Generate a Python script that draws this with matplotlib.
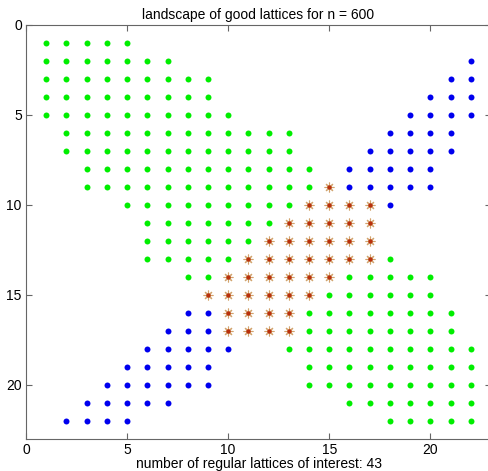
import matplotlib
matplotlib.use("Agg")
import matplotlib.pyplot as plt

# runs of lattice points per row: (row, first column, last column)
green_runs = [
    (1, 1, 5), (2, 1, 7), (3, 1, 9), (4, 1, 9), (5, 1, 10),
    (6, 2, 13), (7, 2, 13), (8, 3, 14), (9, 3, 14), (10, 5, 13),
    (11, 6, 12), (12, 6, 11), (13, 6, 10), (13, 18, 18),
    (14, 8, 9), (14, 16, 20), (15, 15, 20), (16, 14, 21), (17, 14, 21),
    (18, 13, 22), (19, 14, 22), (20, 14, 22), (21, 16, 22), (22, 18, 22),
]
blue_runs = [
    (2, 22, 22), (3, 21, 22), (4, 20, 22), (5, 19, 22), (6, 18, 21),
    (7, 17, 21), (8, 16, 20), (9, 16, 20), (10, 18, 18),
    (16, 8, 9), (17, 7, 9), (18, 6, 10), (19, 5, 9), (20, 4, 9),
    (21, 3, 7), (22, 2, 5),
]
star_runs = [
    (9, 15, 15), (10, 14, 17), (11, 13, 17), (12, 12, 17), (13, 11, 17),
    (14, 10, 15), (15, 9, 14), (16, 10, 13), (17, 10, 13),
]

n_value = 600
x_ticks = [0, 5, 10, 15, 20]
y_ticks = [0, 5, 10, 15, 20]


def expand(runs):
    xs, ys = [], []
    for row, a, b in runs:
        for col in range(a, b + 1):
            xs.append(col)
            ys.append(row)
    return xs, ys


plt.rcParams['font.family'] = ['Liberation Sans', 'DejaVu Sans']

fig = plt.figure(figsize=(4.88, 4.71), dpi=100)
ax = fig.add_axes([26 / 488, 1 - 439 / 471, 465 / 488, 414 / 471])

gx, gy = expand(green_runs)
bx, by = expand(blue_runs)
sx, sy = expand(star_runs)

ax.plot(gx, gy, 'o', color='#00ee00', ms=4.3, mec='none', clip_on=False)
ax.plot(bx, by, 'o', color='#0000ee', ms=4.3, mec='none', clip_on=False)
# points of interest: asterisk with a red core
ax.plot(sx, sy, marker=(8, 2, 0), ls='none', color='#d2a46e', ms=7, mew=0.8)
ax.plot(sx, sy, 'o', color='#b8300c', ms=3.2, mec='none')

ax.set_xlim(0, 23)
ax.set_ylim(23, 0)
ax.set_xticks(x_ticks)
ax.set_yticks(y_ticks)
ax.tick_params(direction='in', top=True, right=True, length=4, labelsize=10,
               color='#666666', pad=3)
for sp in ax.spines.values():
    sp.set_color('#666666')

ax.set_title('landscape of good lattices for n = %d' % n_value, fontsize=10, pad=4)
ax.set_xlabel('number of regular lattices of interest: %d' % len(sx),
              fontsize=10, labelpad=0)

fig.savefig('out.png', dpi=100)
plt.close(fig)
